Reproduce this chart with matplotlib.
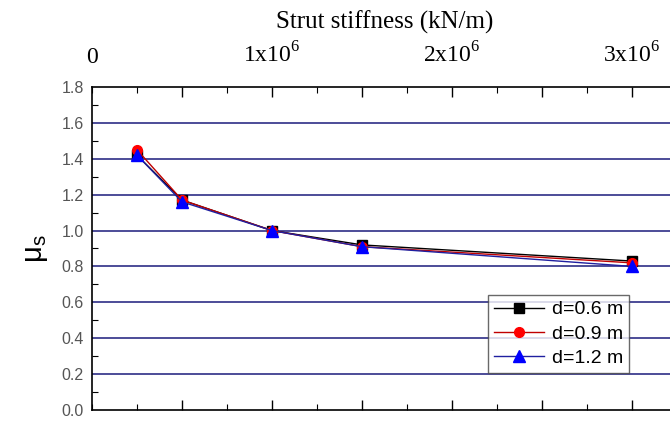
import matplotlib
matplotlib.use("Agg")
import matplotlib.pyplot as plt
from matplotlib.ticker import MultipleLocator

stiffness = [0.25e6, 0.5e6, 1.0e6, 1.5e6, 3.0e6]
mu_06 = [1.42, 1.17, 1.00, 0.92, 0.83]
mu_09 = [1.45, 1.17, 1.00, 0.91, 0.82]
mu_12 = [1.42, 1.16, 1.00, 0.91, 0.80]
labels = ["d=0.6 m", "d=0.9 m", "d=1.2 m"]
top_ticks = [0, 1e6, 2e6, 3e6]
top_labels = ["0", r"1x10$^{\mathregular{6}}$", r"2x10$^{\mathregular{6}}$", r"3x10$^{\mathregular{6}}$"]
y_ticks = [0.0, 0.2, 0.4, 0.6, 0.8, 1.0, 1.2, 1.4, 1.6, 1.8]

W, H = 670, 423
fig = plt.figure(figsize=(W / 100, H / 100), dpi=100)
ax_w = 585
ax = fig.add_axes([92 / W, 1 - 410 / H, ax_w / W, 323 / H])
ax.set_xlim(0, 3.25e6)
ax.set_ylim(0, 1.8)

grid_color = "#2e2e86"
for yv in y_ticks[1:-1]:
    ax.axhline(yv, color=grid_color, lw=1.2, zorder=1)

ax.plot(stiffness, mu_06, color="black", lw=1.0, marker="s", ms=7, label=labels[0], zorder=3)
ax.plot(stiffness, mu_09, color="#c00000", lw=1.0, marker="o", ms=7, mfc="red", mec="red", label=labels[1], zorder=3)
ax.plot(stiffness, mu_12, color="#2020a0", lw=1.0, marker="^", ms=8, mfc="blue", mec="blue", label=labels[2], zorder=4)

ax.set_xticks([0.5e6 * i for i in range(1, 7)])
ax.xaxis.set_minor_locator(MultipleLocator(0.25e6))
ax.set_xticklabels([])
ax.tick_params(axis="x", which="both", direction="in", top=True, bottom=True)
ax.tick_params(axis="x", which="major", length=7, width=1)
ax.tick_params(axis="x", which="minor", length=4, width=0.8)

ax.set_yticks(y_ticks)
ax.set_yticklabels([f"{v:.1f}" for v in y_ticks], fontsize=11.5, color="#555555",
                   family="Liberation Sans")
ax.yaxis.set_minor_locator(MultipleLocator(0.1))
ax.tick_params(axis="y", which="both", direction="in", left=True, right=False)
ax.tick_params(axis="y", which="major", length=0, pad=6)
ax.tick_params(axis="y", which="minor", length=4, width=0.8)

for s in ["left", "bottom", "top"]:
    ax.spines[s].set_linewidth(1.2)
ax.spines["right"].set_visible(False)

ax.set_ylabel(r"μ$_{\mathregular{s}}$", fontsize=21, labelpad=8, family="Liberation Sans")

top = ax.secondary_xaxis("top")
top.set_xticks(top_ticks)
top.set_xticklabels(top_labels, fontsize=17, family="Liberation Serif")
top.tick_params(length=0, pad=14)
top.spines["top"].set_visible(False)
top.set_xlabel("Strut stiffness (kN/m)", fontsize=18, family="Liberation Serif", labelpad=10)

leg = ax.legend(loc="upper left", bbox_to_anchor=((488 - 92) / ax_w, (410 - 295) / 323),
                prop={"family": "Liberation Sans", "size": 14},
                frameon=True, fancybox=False, edgecolor="#444444",
                handlelength=2.6, handletextpad=0.4, borderpad=0.3, labelspacing=0.35,
                borderaxespad=0)
leg.get_frame().set_linewidth(1.0)

fig.savefig("out.png", dpi=100)
